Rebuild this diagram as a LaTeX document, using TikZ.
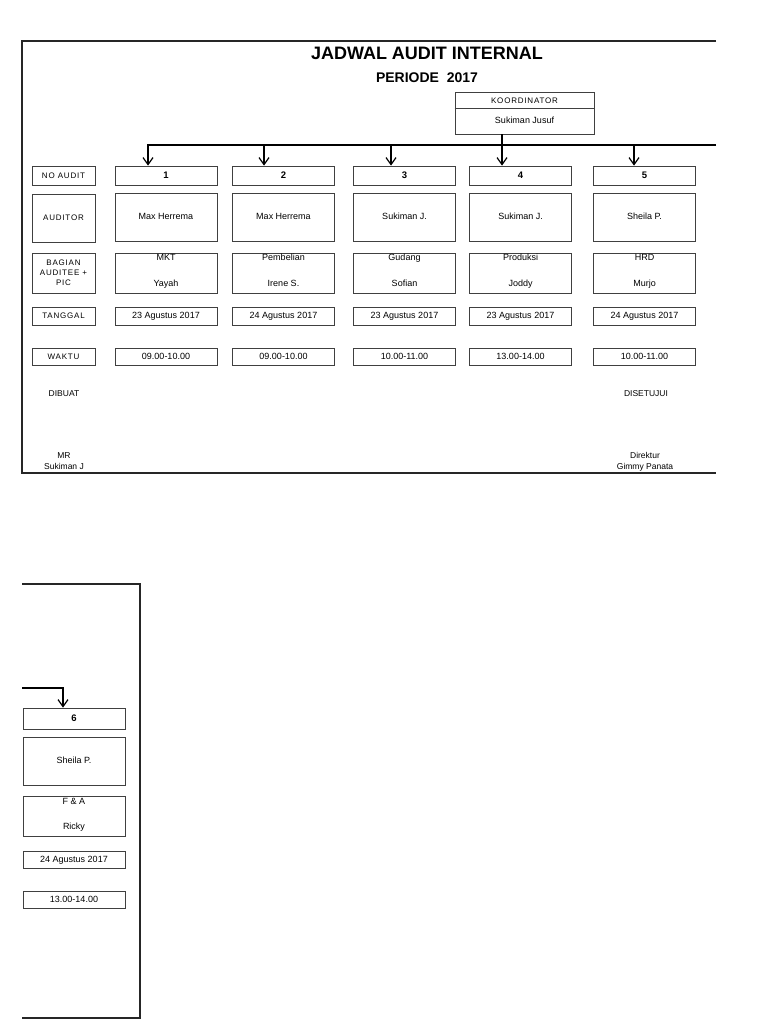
\documentclass[tikz,border=0pt]{standalone}
\usepackage{fontspec}
\setmainfont{Liberation Sans}
\usetikzlibrary{arrows.meta}
\newfontfamily\spaced[LetterSpace=10]{Liberation Sans}
\begin{document}
\begin{tikzpicture}[x=1pt,y=-1pt,
  cell/.style={draw=black!75,line width=0.8pt,inner sep=0pt,font=\fontsize{9}{10}\selectfont},
  lblcell/.style={cell,minimum width=63pt,align=center,font=\spaced\fontsize{8}{10}\selectfont},
  datcell/.style={cell,minimum width=102pt,text height=6.6pt,text depth=0.8pt},
  frame/.style={draw=black!85,line width=1.6pt},
  arr/.style={draw=black,line width=1.5pt,-{Straight Barb[length=7pt,width=10pt,line width=1.2pt]}},
  txt/.style={inner sep=0pt,font=\fontsize{9}{10}\selectfont,text height=6.6pt,text depth=0.8pt},
  sig/.style={inner sep=0pt,font=\fontsize{8.5}{10}\selectfont,text height=6.2pt,text depth=0.8pt},
  numtxt/.style={font=\bfseries\fontsize{9.5}{10}\selectfont}]
\useasboundingbox (0,0) rectangle (768,1024);

% frames
\draw[frame] (716,41) -- (22,41) -- (22,473) -- (716,473);
\draw[frame] (22,584) -- (140,584) -- (140,1018) -- (22,1018);

% titles
\node[inner sep=0pt,font=\bfseries\fontsize{18}{20}\selectfont] (title) at (427,53) {JADWAL AUDIT INTERNAL};
\node[inner sep=0pt,font=\bfseries\fontsize{14}{16}\selectfont] (periode) at (427,78) {PERIODE\ \ 2017};

% koordinator
\node[cell,minimum width=139pt,minimum height=42pt] (koord) at (524.5,113) {};
\coordinate (kdiv) at (0,108);
\draw[draw=black!75,line width=0.8pt] (koord.west |- kdiv) -- (koord.east |- kdiv);
\node[txt,font=\spaced\fontsize{8}{10}\selectfont] (kt) at (524.5,100.5) {KOORDINATOR};
\node[txt] (kn) at (524.5,121) {Sukiman Jusuf};

% label column
\node[lblcell,minimum height=19pt] (lno) at (63.5,175.5) {NO AUDIT};
\node[lblcell,minimum height=48pt] (lau) at (63.5,218) {AUDITOR};
\node[lblcell,minimum height=40pt] (lbg) at (63.5,273) {BAGIAN\\AUDITEE +\\PIC};
\node[lblcell,minimum height=18pt] (ltg) at (63.5,316) {TANGGAL};
\node[lblcell,minimum height=17pt] (lwk) at (63.5,356.5) {WAKTU};

% data columns page 1
\foreach \i/\x/\aud/\bt/\bb/\tg/\wk in {
  1/166/Max Herrema/MKT/Yayah/23 Agustus 2017/09.00-10.00,
  2/283.5/Max Herrema/Pembelian/Irene S./24 Agustus 2017/09.00-10.00,
  3/404.5/Sukiman J./Gudang/Sofian/23 Agustus 2017/10.00-11.00,
  4/520.5/Sukiman J./Produksi/Joddy/23 Agustus 2017/13.00-14.00,
  5/644.5/Sheila P./HRD/Murjo/24 Agustus 2017/10.00-11.00}{
  \node[datcell,minimum height=19pt,numtxt] (no\i) at (\x,175.5) {\i};
  \node[datcell,minimum height=48pt] (au\i) at (\x,217) {\aud};
  \node[datcell,minimum height=40pt] (bg\i) at (\x,273) {};
  \node[txt] (bt\i) at (\x,258) {\bt};
  \node[txt] (bb\i) at (\x,284) {\bb};
  \node[datcell,minimum height=18pt] (tg\i) at (\x,316) {\tg};
  \node[datcell,minimum height=17pt] (wk\i) at (\x,356.5) {\wk};
}

% page 2 column
\node[datcell,minimum height=21pt,numtxt] (no6) at (74,718.5) {6};
\node[datcell,minimum height=48pt] (au6) at (74,761) {Sheila P.};
\node[datcell,minimum height=40pt] (bg6) at (74,816) {};
\node[txt] (bt6) at (74,802) {F \& A};
\node[txt] (bb6) at (74,827) {Ricky};
\node[datcell,minimum height=17pt] (tg6) at (74,859.5) {24 Agustus 2017};
\node[datcell,minimum height=17pt] (wk6) at (74,899.5) {13.00-14.00};

% connectors
\coordinate (busL) at (148,145);
\coordinate (busR) at (716,145);
\coordinate (tap2) at (264,145);
\coordinate (tap3) at (391,145);
\coordinate (tap4) at (502,145);
\coordinate (tap5) at (634,145);
\draw[arr] (busR) -- (busL) -- (no1.north -| busL);
\draw[arr] (tap2) -- (no2.north -| tap2);
\draw[arr] (tap3) -- (no3.north -| tap3);
\draw[arr] (koord.south -| tap4) -- (no4.north -| tap4);
\draw[arr] (tap5) -- (no5.north -| tap5);

\coordinate (p2L) at (22,688);
\coordinate (tap6) at (63,688);
\draw[arr] (p2L) -- (tap6) -- (no6.north -| tap6);

% signatures
\node[sig] (dibuat) at (64,394) {DIBUAT};
\node[sig] (disetujui) at (646,394) {DISETUJUI};
\node[sig] (mr) at (64,456) {MR};
\node[sig] (mrname) at (64,466.5) {Sukiman J};
\node[sig] (dir) at (645,456) {Direktur};
\node[sig] (dirname) at (645,466.5) {Gimmy Panata};
\end{tikzpicture}
\end{document}
